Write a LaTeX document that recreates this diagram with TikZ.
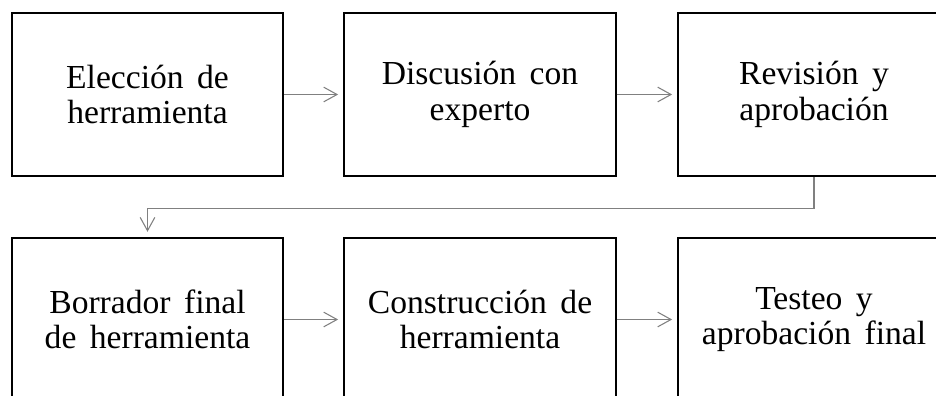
\documentclass[tikz,border=0pt]{standalone}
\usepackage{fontspec}
\setmainfont[WordSpace=1.6]{Liberation Serif}
\usetikzlibrary{arrows.meta}
\tikzset{
  stepbox/.style={draw=black, line width=1.3pt, fill=white, minimum width=203.5pt, minimum height=122.25pt, inner sep=0pt, align=center, font=\fontsize{25.2}{26.5}\selectfont},
  conn/.style={draw=black!50, line width=0.8pt, -{Straight Barb[length=10pt,width=11pt]}, shorten >=4pt}
}
\begin{document}
\begin{tikzpicture}[x=0.75pt,y=-0.75pt]
\useasboundingbox (0,0) rectangle (936,396);
\clip (0,0) rectangle (936,396);
\node[stepbox] (a) at (147.5,94.5) {Elección de\\herramienta};
\node[stepbox] (b) at (480,94.5) {Discusión con\\experto};
\node[stepbox] (c) at (814,94.5) {Revisión y\\aprobación};
\node[stepbox] (d) at (147.5,319.5) {Borrador final\\de herramienta};
\node[stepbox] (e) at (480,319.5) {Construcción de\\herramienta};
\node[stepbox] (f) at (814,319.5) {Testeo y\\aprobación final};
\draw[conn] (a) -- (b);
\draw[conn] (b) -- (c);
\draw[conn] (d) -- (e);
\draw[conn] (e) -- (f);
\draw[conn] (c.south) -- ++(0,31.5) -| (d.north);
\end{tikzpicture}
\end{document}
